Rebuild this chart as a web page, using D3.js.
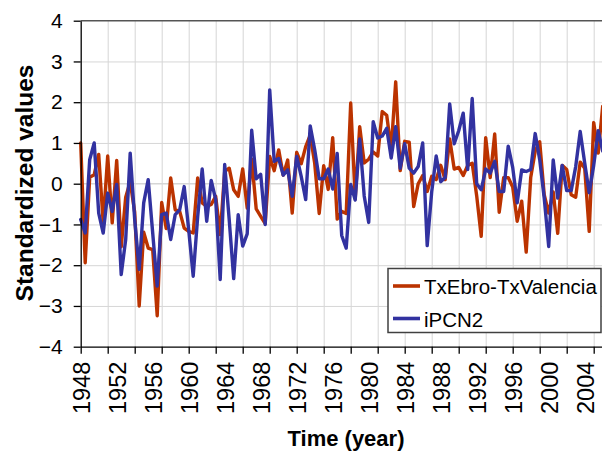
<!DOCTYPE html>
<html>
<head>
<meta charset="utf-8">
<script src="https://cdn.jsdelivr.net/npm/d3@7"></script>
<style>
  body { margin: 0; background: #fff; }
  svg { display: block; font-family: "Liberation Sans", Arial, sans-serif; }
  .grid line { stroke: #d6d6d6; stroke-width: 1; }
  .grid path { display: none; }
  .axis path, .axis line { stroke: #000; stroke-width: 1.3; }
  .axis text { fill: #000; }
  .series { fill: none; stroke-width: 3.4; stroke-linejoin: round; stroke-linecap: round; }
</style>
</head>
<body>
<svg class="chart"></svg>
<script>
var width = 602, height = 452;

// half-yearly values, first one at 1948
var startYear = 1948, step = 0.5;

var txEbro = [1.0, -1.94, 0.16, 0.22, 0.72, -0.96, 0.68, -0.96, 0.57, -1.55,
  -0.33, 0.05, -0.7, -3.0, -1.19, -1.58, -1.62, -3.24, -0.46, -1.1,
  0.14, -0.64, -0.68, -1.09, -1.17, -1.21, 0.14, -0.47, -0.56, -0.51,
  -0.31, -1.25, 0.3, 0.38, -0.15, -0.31, 0.36, -0.6, 0.6, -0.62,
  -0.8, -0.98, 0.67, 0.32, 0.83, 0.21, 0.58, -0.72, 0.77, 0.49,
  0.91, 1.19, 0.5, -0.73, 0.44, -0.14, 1.13, -0.87, -0.68, -0.73,
  1.98, -0.37, 1.4, 0.51, 0.6, 0.78, 0.68, 1.77, 1.68, 0.85,
  2.5, 0.32, 1.04, 1.02, -0.56, 0.0, 0.2, -0.19, 0.18, 0.1,
  0.45, 0.1, 1.1, 0.36, 0.4, 0.2, 0.45, 0.5, -0.3, -1.29,
  1.13, 0.15, 1.22, -0.7, 0.15, 0.15, -0.08, -0.92, -0.43, -1.68,
  0.15, 0.8, 1.03, -0.27, -0.72, -0.2, -1.22, 0.45, 0.35, -0.27,
  -0.33, 0.53, 0.38, -1.17, 1.5, 0.75, 1.9];

var iPCN2 = [-0.88, -1.21, 0.59, 1.0, -0.72, -1.21, -0.23, -0.68, -0.02, -2.23,
  -1.37, 0.75, -0.88, -2.1, -0.47, 0.1, -1.21, -2.51, -0.76, -0.72,
  -1.37, -0.76, -0.64, -0.07, -1.13, -2.27, -0.8, 0.36, -0.92, 0.08,
  -0.39, -2.35, 0.47, -0.88, -2.33, -0.76, -1.53, -1.23, 1.31, 0.12,
  0.23, -1.0, 2.3, 0.55, 0.62, 0.21, 0.34, -0.31, 0.67, 0.18,
  -0.39, 1.42, 0.83, 0.12, 0.12, 0.36, -0.13, 0.74, -1.27, -1.58,
  -0.02, -0.4, 1.1, -0.3, -0.95, 1.52, 1.12, 1.17, 1.36, 0.63,
  1.4, 0.38, 0.98, 0.38, 0.26, 0.42, 1.0, -1.52, -0.2, 0.68,
  0.05, 0.15, 1.96, 0.98, 1.3, 1.73, 0.35, 2.09, 0.0, -0.15,
  0.36, 0.26, 0.55, -0.19, -0.19, 0.92, 0.4, -0.47, 0.34, 0.3,
  0.35, 1.23, 0.59, -0.35, -1.54, 0.58, -0.35, 0.45, -0.17, -0.17,
  0.42, 1.28, 0.51, -0.22, 0.45, 1.3, 0.8];

var yearLabels = ["1948", "1952", "1956", "1960", "1964", "1968", "1972", "1976",
  "1980", "1984", "1988", "1992", "1996", "2000", "2004"];
var yTicks = [-4, -3, -2, -1, 0, 1, 2, 3, 4];

var seriesNames = ["TxEbro-TxValencia", "iPCN2"];
var colour = d3.scaleOrdinal().domain(seriesNames).range(["#bb3300", "#3232a0"]);

var xScale = d3.scaleLinear()
                .domain([1948, 2006])
                .range([80.7, 602.7]);

var yScale = d3.scaleLinear()
                .domain([-4, 4])
                .range([346.7, 20.7]);

var chart = d3.select(".chart")
          .attr("width", width)
          .attr("height", height);

// grid
chart.append("g")
    .attr("class", "grid")
    .attr("transform", "translate(0,346.7)")
    .call(d3.axisBottom(xScale).tickValues(d3.range(1951, 2006, 3)).tickSize(-326).tickFormat(""));

chart.append("g")
    .attr("class", "grid")
    .attr("transform", "translate(80.7,0)")
    .call(d3.axisLeft(yScale).tickValues([-3, -2, -1, 1, 2, 3]).tickSize(-522).tickFormat(""));

// zero line a bit stronger, like the reference
chart.append("line")
    .attr("x1", 80.7).attr("x2", 602)
    .attr("y1", yScale(0)).attr("y2", yScale(0))
    .style("stroke", "#d6d6d6").style("stroke-width", 1.6);

// top border
chart.append("line")
    .attr("x1", 80.7).attr("x2", 602)
    .attr("y1", yScale(4)).attr("y2", yScale(4))
    .style("stroke", "#555").style("stroke-width", 1.4);

// lines
var line = d3.line()
    .x(function(d, i) { return xScale(startYear + i * step); })
    .y(function(d) { return yScale(d); });

chart.append("path")
    .datum(txEbro)
    .attr("class", "series")
    .attr("d", line)
    .style("stroke", colour("TxEbro-TxValencia"));

chart.append("path")
    .datum(iPCN2)
    .attr("class", "series")
    .attr("d", line)
    .style("stroke", colour("iPCN2"));

// axes
chart.append("g")
    .attr("class", "x axis")
    .attr("transform", "translate(0,346.7)")
    .call(d3.axisBottom(xScale).tickValues(d3.range(1948, 2006, 3)).tickSize(7).tickSizeOuter(0).tickFormat(""));

var xLabels = chart.append("g")
    .attr("class", "x axis labels")
    .attr("transform", "translate(0,346.7)")
    .call(d3.axisBottom(xScale)
        .tickValues(yearLabels.map(Number))
        .tickSize(0)
        .tickFormat(function(d) { return String(d); }));

xLabels.select(".domain").remove();
xLabels.selectAll("text")
    .attr("transform", "rotate(-90)")
    .attr("x", -15)
    .attr("y", 0)
    .attr("dy", "0.36em")
    .style("text-anchor", "end")
    .style("font-size", "23.5px");

chart.append("g")
    .attr("class", "y axis")
    .attr("transform", "translate(80.7,0)")
    .call(d3.axisLeft(yScale).tickValues(yTicks).tickSize(7).tickPadding(11).tickSizeOuter(0))
  .selectAll("text")
    .style("font-size", "21px");

chart.append("text")
    .attr("transform", "translate(33,183) rotate(-90)")
    .style("text-anchor", "middle")
    .style("font-weight", "bold")
    .style("font-size", "24.5px")
    .text("Standardized values");

chart.append("text")
    .attr("x", 346)
    .attr("y", 446)
    .style("text-anchor", "middle")
    .style("font-weight", "bold")
    .style("font-size", "22px")
    .text("Time (year)");

// legend
chart.append("rect")
    .attr("x", 388)
    .attr("y", 268.5)
    .attr("width", 213)
    .attr("height", 64)
    .style("fill", "#fff")
    .style("stroke", "#404040")
    .style("stroke-width", 1.5);

var legend = chart.selectAll(".legend")
    .data(seriesNames)
  .enter().append("g")
    .attr("class", "legend")
    .attr("transform", function(d, i) { return "translate(0," + (286 + i * 32.5) + ")"; });

legend.append("line")
    .attr("x1", 393)
    .attr("x2", 420)
    .style("stroke", colour)
    .style("stroke-width", 3.6);

legend.append("text")
    .attr("x", 424)
    .attr("y", 8)
    .style("font-size", "20.5px")
    .text(function(d) { return d; });
</script>
</body>
</html>
